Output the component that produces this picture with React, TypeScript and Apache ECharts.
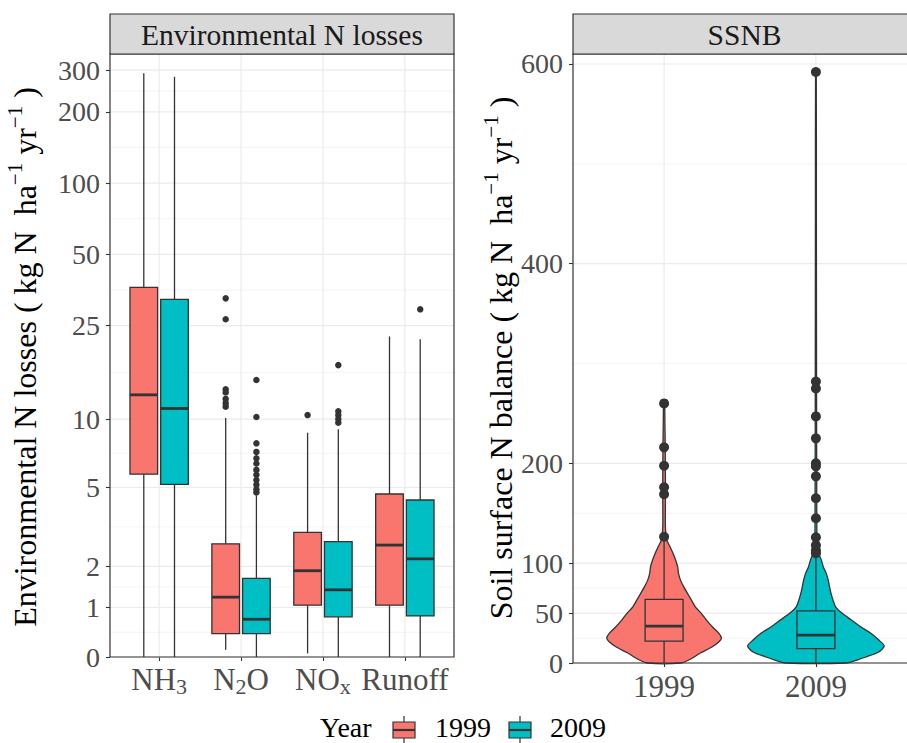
import React, { useEffect, useRef } from 'react';
import * as echarts from 'echarts';

const FONT = '"Liberation Serif", "Times New Roman", serif';
const INK = '#333333';
const GRID = '#EBEBEB';
const TICK_TEXT = '#4D4D4D';

// ---------- Data ----------
const years = ['1999', '2009'];
const yearColors = ['#F8766D', '#00BFC4'];

const lossCategories = ['NH3', 'N2O', 'NOx', 'Runoff'];
const lossCategoryLabels = ['{n|NH}{s|3}', '{n|N}{s|2}{n|O}', '{n|NO}{s|x}', '{n|Runoff}'];
const lossTicks = [0, 1, 2, 5, 10, 25, 50, 100, 200, 300];

// [lower whisker, Q1, median, Q3, upper whisker]
const lossStats1999 = [
  [0, 5.74, 12.7, 36.3, 291],
  [0.14, 0.46, 1.23, 2.67, 10.1],
  [0.07, 1.05, 1.88, 3.06, 8.73],
  [0, 1.05, 2.63, 4.67, 22.5],
];
const lossStats2009 = [
  [0, 5.17, 11.1, 32.3, 281],
  [0, 0.46, 0.75, 1.68, 4.6],
  [0, 0.8, 1.4, 2.74, 9.03],
  [0, 0.82, 2.21, 4.38, 21.9],
];
const lossOutliers1999 = [
  [],
  [32.6, 26.6, 13.4, 13.0, 12.2, 11.7, 11.3],
  [10.4],
  [],
];
const lossOutliers2009 = [
  [],
  [14.7, 10.2, 7.85, 7.2, 6.75, 6.4, 6.0, 5.7, 5.4, 5.15, 4.9, 4.75],
  [17.0, 10.8, 10.4, 10.0, 9.65],
  [29.3],
];

const ssnbTicks = [0, 50, 100, 200, 400, 600];
const ssnbMinorTicks = [25, 75, 150, 300, 500];
const ssnbBox1999 = [0, 22, 37, 63.8, 122];
const ssnbBox2009 = [0, 14.3, 28, 52.3, 106];
const ssnbOutliers1999 = [260, 216, 197.6, 176, 169, 126.5];
const ssnbOutliers2009 = [592, 282, 275, 247, 225, 200, 197, 187, 165, 145, 126, 118, 113, 110];

// violin density (relative width, 1 = widest violin)
const ssnbViolinLevels1999 = [0, 4, 10, 16, 21, 25, 30, 36, 43, 50, 56, 63, 70, 76, 83, 90, 96, 103, 110, 116, 123, 130, 140, 170, 200, 215, 240, 260];
const ssnbViolinWidths1999 = [0.25, 0.39, 0.53, 0.7, 0.8, 0.84, 0.8, 0.71, 0.62, 0.54, 0.46, 0.4, 0.34, 0.29, 0.24, 0.21, 0.2, 0.17, 0.13, 0.09, 0.04, 0.025, 0.018, 0.02, 0.018, 0.017, 0.012, 0.007];
const ssnbViolinLevels2009 = [0, 3, 6, 11, 17, 23, 30, 36, 43, 50, 56, 63, 70, 76, 83, 90, 96, 103, 110, 116, 130, 200, 300, 450, 592];
const ssnbViolinWidths2009 = [0.45, 0.6, 0.73, 0.92, 1.0, 0.92, 0.8, 0.66, 0.52, 0.38, 0.29, 0.25, 0.22, 0.2, 0.18, 0.15, 0.11, 0.08, 0.04, 0.02, 0.014, 0.011, 0.009, 0.007, 0.005];

// ---------- helpers ----------
const pl = (v: number) => Math.asinh(v / 2); // pseudo-log (sigma = 1)
const plInv = (t: number) => 2 * Math.sinh(t);

const DODGE = 0.1875;
const LOSS_BOX_HALF = 0.16875;
const SSNB_BOX_HALF = 0.125;
const VIOLIN_HALF = 0.45;

function hGridRender(width: number) {
  return (params: any, api: any) => {
    const cs = params.coordSys;
    const p = api.coord([api.value(0), api.value(1)]);
    return {
      type: 'line',
      shape: { x1: cs.x, y1: p[1], x2: cs.x + cs.width, y2: p[1] },
      style: { stroke: GRID, lineWidth: width },
    };
  };
}
function vGridRender(width: number) {
  return (params: any, api: any) => {
    const cs = params.coordSys;
    const p = api.coord([api.value(0), api.value(1)]);
    return {
      type: 'line',
      shape: { x1: p[0], y1: cs.y, x2: p[0], y2: cs.y + cs.height },
      style: { stroke: GRID, lineWidth: width },
    };
  };
}
function boxRender(halfW: number, fillFn: (i: number) => string, boxLW: number, medLW: number) {
  return (params: any, api: any) => {
    const x = api.value(0);
    const lo = api.value(1), q1 = api.value(2), md = api.value(3), q3 = api.value(4), hi = api.value(5);
    const pLo = api.coord([x, lo]);
    const pQ1 = api.coord([x, q1]);
    const pMd = api.coord([x, md]);
    const pQ3 = api.coord([x, q3]);
    const pHi = api.coord([x, hi]);
    const left = api.coord([x - halfW, q1])[0];
    const right = api.coord([x + halfW, q1])[0];
    return {
      type: 'group',
      children: [
        { type: 'line', shape: { x1: pQ3[0], y1: pQ3[1], x2: pHi[0], y2: pHi[1] }, style: { stroke: INK, lineWidth: boxLW } },
        { type: 'line', shape: { x1: pQ1[0], y1: pQ1[1], x2: pLo[0], y2: pLo[1] }, style: { stroke: INK, lineWidth: boxLW } },
        {
          type: 'rect',
          shape: { x: left, y: pQ3[1], width: right - left, height: pQ1[1] - pQ3[1] },
          style: { fill: fillFn(params.dataIndex), stroke: INK, lineWidth: boxLW },
        },
        { type: 'line', shape: { x1: left, y1: pMd[1], x2: right, y2: pMd[1] }, style: { stroke: INK, lineWidth: medLW } },
      ],
    };
  };
}

const violinLevels = [ssnbViolinLevels1999, ssnbViolinLevels2009];
const violinWidths = [ssnbViolinWidths1999, ssnbViolinWidths2009];

function violinRender(params: any, api: any) {
  const i = params.dataIndex;
  const x = api.value(0);
  const lv = violinLevels[i];
  const wd = violinWidths[i];
  const pts: number[][] = [];
  for (let k = 0; k < lv.length; k++) pts.push(api.coord([x + wd[k] * VIOLIN_HALF, lv[k]]));
  for (let k = lv.length - 1; k >= 0; k--) pts.push(api.coord([x - wd[k] * VIOLIN_HALF, lv[k]]));
  return {
    type: 'polygon',
    shape: { points: pts, smooth: 0.25 },
    style: { fill: yearColors[i], stroke: INK, lineWidth: 1.3 },
  };
}

function buildOption() {
  const lossMinor: number[] = [];
  for (let i = 0; i < lossTicks.length - 1; i++) lossMinor.push((pl(lossTicks[i]) + pl(lossTicks[i + 1])) / 2);

  const lossOut = (outs: number[][], off: number) => {
    const d: number[][] = [];
    outs.forEach((arr, i) => arr.forEach((v) => d.push([i + 1 + off, pl(v)])));
    return d;
  };

  const labelStyle = { fontFamily: FONT, fontSize: 28, color: TICK_TEXT };
  const tickStyle = { show: true, length: 4, lineStyle: { color: INK, width: 1.1 } };

  const subRich = {
    n: { fontFamily: FONT, fontSize: 31, color: TICK_TEXT, lineHeight: 36 },
    s: { fontFamily: FONT, fontSize: 22, color: TICK_TEXT, lineHeight: 24, verticalAlign: 'bottom' },
  };

  const titleRich = {
    m: { fontFamily: FONT, fontSize: 32, color: '#000', lineHeight: 42 },
    s: { fontFamily: FONT, fontSize: 21, color: '#000', lineHeight: 20, verticalAlign: 'top' },
  };

  const L = { left: 110, top: 54, width: 344, height: 603 };
  const R = { left: 573, top: 54, width: 343, height: 609 };

  return {
    animation: false,
    backgroundColor: '#ffffff',
    tooltip: { show: false },
    grid: [
      { ...L, show: false },
      { ...R, show: false },
    ],
    xAxis: [
      {
        gridIndex: 0,
        type: 'value',
        min: 0.4,
        max: 4.6,
        axisLine: { show: false },
        splitLine: { show: false },
        axisTick: { ...tickStyle, customValues: [1, 2, 3, 4] },
        axisLabel: {
          customValues: [1, 2, 3, 4],
          margin: 4,
          formatter: (v: number) => lossCategoryLabels[Math.round(v) - 1],
          rich: subRich,
          ...labelStyle,
        },
      },
      {
        gridIndex: 1,
        type: 'value',
        min: 0.4,
        max: 2.6,
        axisLine: { show: false },
        splitLine: { show: false },
        axisTick: { ...tickStyle, customValues: [1, 2] },
        axisLabel: {
          customValues: [1, 2],
          margin: 8,
          formatter: (v: number) => years[Math.round(v) - 1],
          fontFamily: FONT,
          fontSize: 31,
          color: TICK_TEXT,
        },
      },
    ],
    yAxis: [
      {
        gridIndex: 0,
        type: 'value',
        min: 0,
        max: 5.86,
        axisLine: { show: false },
        splitLine: { show: false },
        axisTick: { ...tickStyle, customValues: lossTicks.map(pl) },
        axisLabel: {
          customValues: lossTicks.map(pl),
          margin: 10,
          formatter: (v: number) => String(Math.round(plInv(v))),
          ...labelStyle,
        },
      },
      {
        gridIndex: 1,
        type: 'value',
        min: 0,
        max: 610,
        axisLine: { show: false },
        splitLine: { show: false },
        axisTick: { ...tickStyle, customValues: ssnbTicks },
        axisLabel: {
          customValues: ssnbTicks,
          margin: 10,
          formatter: (v: number) => String(Math.round(v)),
          ...labelStyle,
        },
      },
    ],
    series: [
      // ---- left panel ----
      {
        type: 'custom', xAxisIndex: 0, yAxisIndex: 0, silent: true,
        renderItem: hGridRender(0.6), encode: { x: 0, y: 1 },
        data: lossMinor.map((t) => [1, t]),
      },
      {
        type: 'custom', xAxisIndex: 0, yAxisIndex: 0, silent: true,
        renderItem: hGridRender(1.2), encode: { x: 0, y: 1 },
        data: lossTicks.map((v) => [1, pl(v)]),
      },
      {
        type: 'custom', xAxisIndex: 0, yAxisIndex: 0, silent: true,
        renderItem: vGridRender(1.2), encode: { x: 0, y: 1 },
        data: lossCategories.map((_, i) => [i + 1, 1]),
      },
      {
        type: 'custom', name: years[0], xAxisIndex: 0, yAxisIndex: 0, silent: true,
        renderItem: boxRender(LOSS_BOX_HALF, () => yearColors[0], 1.3, 2.8),
        encode: { x: 0, y: [1, 2, 3, 4, 5] },
        data: lossStats1999.map((s, i) => [i + 1 - DODGE, ...s.map(pl)]),
      },
      {
        type: 'custom', name: years[1], xAxisIndex: 0, yAxisIndex: 0, silent: true,
        renderItem: boxRender(LOSS_BOX_HALF, () => yearColors[1], 1.3, 2.8),
        encode: { x: 0, y: [1, 2, 3, 4, 5] },
        data: lossStats2009.map((s, i) => [i + 1 + DODGE, ...s.map(pl)]),
      },
      {
        type: 'scatter', xAxisIndex: 0, yAxisIndex: 0, silent: true,
        symbol: 'circle', symbolSize: 6.5, itemStyle: { color: INK, opacity: 1 },
        data: lossOut(lossOutliers1999, -DODGE),
      },
      {
        type: 'scatter', xAxisIndex: 0, yAxisIndex: 0, silent: true,
        symbol: 'circle', symbolSize: 6.5, itemStyle: { color: INK, opacity: 1 },
        data: lossOut(lossOutliers2009, DODGE),
      },
      // ---- right panel ----
      {
        type: 'custom', xAxisIndex: 1, yAxisIndex: 1, silent: true,
        renderItem: hGridRender(0.6), encode: { x: 0, y: 1 },
        data: ssnbMinorTicks.map((v) => [1, v]),
      },
      {
        type: 'custom', xAxisIndex: 1, yAxisIndex: 1, silent: true,
        renderItem: hGridRender(1.2), encode: { x: 0, y: 1 },
        data: ssnbTicks.map((v) => [1, v]),
      },
      {
        type: 'custom', xAxisIndex: 1, yAxisIndex: 1, silent: true,
        renderItem: vGridRender(1.2), encode: { x: 0, y: 1 },
        data: years.map((_, i) => [i + 1, 1]),
      },
      {
        type: 'custom', xAxisIndex: 1, yAxisIndex: 1, silent: true,
        renderItem: violinRender, encode: { x: 0, y: 1 },
        data: years.map((_, i) => [i + 1, 0]),
      },
      {
        type: 'custom', xAxisIndex: 1, yAxisIndex: 1, silent: true,
        renderItem: boxRender(SSNB_BOX_HALF, (i) => yearColors[i], 1.3, 2.8),
        encode: { x: 0, y: [1, 2, 3, 4, 5] },
        data: [
          [1, ...ssnbBox1999],
          [2, ...ssnbBox2009],
        ],
      },
      {
        type: 'scatter', xAxisIndex: 1, yAxisIndex: 1, silent: true,
        symbol: 'circle', symbolSize: 10, itemStyle: { color: INK, opacity: 1 },
        data: [
          ...ssnbOutliers1999.map((v) => [1, v]),
          ...ssnbOutliers2009.map((v) => [2, v]),
        ],
      },
    ],
    graphic: [
      // panel borders
      {
        type: 'rect', z: 100, silent: true,
        shape: { x: L.left, y: L.top, width: L.width, height: L.height },
        style: { fill: 'none', stroke: INK, lineWidth: 1.2 },
      },
      {
        type: 'rect', z: 100, silent: true,
        shape: { x: R.left, y: R.top, width: R.width, height: R.height },
        style: { fill: 'none', stroke: INK, lineWidth: 1.2 },
      },
      // strips
      {
        type: 'rect', z: 100, silent: true,
        shape: { x: L.left, y: 14, width: L.width, height: 40 },
        style: { fill: '#D9D9D9', stroke: INK, lineWidth: 1.2 },
      },
      {
        type: 'text', z: 101, silent: true,
        x: L.left + L.width / 2, y: 35,
        style: { text: 'Environmental N losses', fontFamily: FONT, fontSize: 29.5, fill: '#1A1A1A', align: 'center', verticalAlign: 'middle' },
      },
      {
        type: 'rect', z: 100, silent: true,
        shape: { x: R.left, y: 14, width: R.width, height: 40 },
        style: { fill: '#D9D9D9', stroke: INK, lineWidth: 1.2 },
      },
      {
        type: 'text', z: 101, silent: true,
        x: R.left + R.width / 2, y: 35,
        style: { text: 'SSNB', fontFamily: FONT, fontSize: 29.5, fill: '#1A1A1A', align: 'center', verticalAlign: 'middle' },
      },
      // axis titles
      {
        type: 'text', z: 101, silent: true,
        x: 25, y: 357, rotation: Math.PI / 2,
        style: {
          text: '{m|Environmental N losses ( kg N  ha}{s|\u22121}{m| yr}{s|\u22121}{m| )}',
          rich: titleRich, align: 'center', verticalAlign: 'middle',
        },
      },
      {
        type: 'text', z: 101, silent: true,
        x: 501, y: 358, rotation: Math.PI / 2,
        style: {
          text: '{m|Soil surface N balance ( kg N  ha}{s|\u22121}{m| yr}{s|\u22121}{m| )}',
          rich: titleRich, align: 'center', verticalAlign: 'middle',
        },
      },
      // legend
      {
        type: 'text', z: 101, silent: true, x: 320, y: 727,
        style: { text: 'Year', fontFamily: FONT, fontSize: 28, fill: '#000', align: 'left', verticalAlign: 'middle' },
      },
      ...years.flatMap((yr, i) => {
        const kx = [393, 509][i];
        const tx = [435, 550][i];
        return [
          { type: 'line', z: 100, silent: true, shape: { x1: kx + 11, y1: 716, x2: kx + 11, y2: 745 }, style: { stroke: INK, lineWidth: 1.2 } },
          { type: 'rect', z: 101, silent: true, shape: { x: kx, y: 722, width: 22, height: 16 }, style: { fill: yearColors[i], stroke: INK, lineWidth: 1.2 } },
          { type: 'line', z: 102, silent: true, shape: { x1: kx, y1: 730, x2: kx + 22, y2: 730 }, style: { stroke: INK, lineWidth: 2.2 } },
          {
            type: 'text', z: 101, silent: true, x: tx, y: 727,
            style: { text: yr, fontFamily: FONT, fontSize: 28, fill: '#000', align: 'left', verticalAlign: 'middle' },
          },
        ];
      }),
    ],
  };
}

export default function App() {
  const ref = useRef<HTMLDivElement>(null);
  useEffect(() => {
    document.body.style.margin = '0';
    const chart = echarts.init(ref.current as HTMLDivElement, null, { renderer: 'svg' });
    chart.setOption(buildOption() as any);
    return () => chart.dispose();
  }, []);
  return <div ref={ref} style={{ width: 907, height: 743 }} />;
}
